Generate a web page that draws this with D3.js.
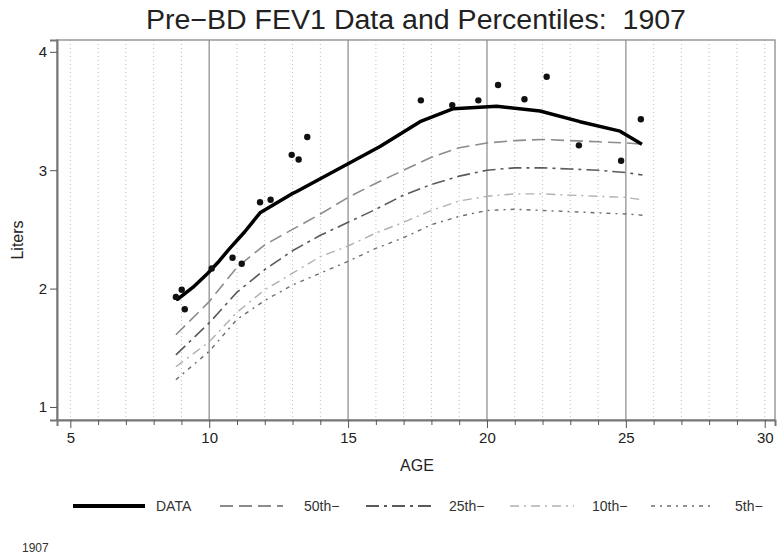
<!DOCTYPE html>
<html><head><meta charset="utf-8">
<script src="https://cdn.jsdelivr.net/npm/d3@7/dist/d3.min.js"></script>
<style>body{margin:0;background:#fff;} svg{display:block;font-family:"Liberation Sans",Arial,sans-serif;}</style>
</head><body><svg id="c" width="777" height="554"></svg>
<script>
const titleText = "Pre\u2212BD FEV1 Data and Percentiles:  1907";
const xTicks = [5, 10, 15, 20, 25, 30];
const yTicks = [1, 2, 3, 4];
const refLines = [10, 15, 20, 25];
// observed data points
const pointAge = [8.8, 9.01, 9.12, 10.09, 10.84, 11.17, 11.83, 12.21, 12.97, 13.22, 13.53, 17.62, 18.75, 19.69, 20.40, 21.35, 22.15, 23.31, 24.83, 25.54];
const pointFev = [1.93, 1.99, 1.825, 2.17, 2.26, 2.21, 2.73, 2.75, 3.13, 3.09, 3.28, 3.59, 3.55, 3.59, 3.72, 3.60, 3.79, 3.21, 3.08, 3.43];
// fitted DATA curve
const dataAge = [8.76, 8.86, 9.41, 9.95, 10.31, 10.74, 11.28, 11.83, 12.97, 13.15, 16.15, 17.59, 18.79, 20.35, 21.91, 23.35, 24.79, 25.58];
const dataFev = [1.95, 1.91, 2.01, 2.13, 2.22, 2.34, 2.48, 2.64, 2.80, 2.82, 3.20, 3.41, 3.52, 3.54, 3.50, 3.41, 3.33, 3.22];
// percentile curves
const pctAge = [8.8, 10, 11, 12, 13, 14, 15, 16, 17, 18, 19, 20, 21, 22, 23, 24, 25, 25.6];
const p50 = [1.61, 1.89, 2.18, 2.37, 2.50, 2.63, 2.77, 2.89, 3.00, 3.11, 3.19, 3.23, 3.25, 3.26, 3.25, 3.24, 3.23, 3.22];
const p25 = [1.44, 1.71, 1.97, 2.16, 2.32, 2.45, 2.56, 2.67, 2.79, 2.88, 2.95, 3.00, 3.02, 3.02, 3.01, 3.00, 2.98, 2.96];
const p10 = [1.34, 1.55, 1.80, 1.99, 2.13, 2.27, 2.36, 2.47, 2.56, 2.66, 2.74, 2.78, 2.80, 2.80, 2.79, 2.78, 2.77, 2.75];
const p05 = [1.23, 1.47, 1.74, 1.90, 2.03, 2.13, 2.23, 2.34, 2.43, 2.54, 2.61, 2.66, 2.67, 2.66, 2.65, 2.64, 2.63, 2.62];
const legendLabels = ["DATA", "50th\u2212", "25th\u2212", "10th\u2212", "5th\u2212"];
const footText = "1907";

const svg = d3.select("#c");
const L = 57, R = 775, T = 40, B = 420;
const x = d3.scaleLinear().domain([4.52, 30.37]).range([L, R]);
const y = d3.scaleLinear().domain([0.89, 4.10]).range([B, T]);

// grid
const g = svg.append("g");
g.selectAll(".minor").data(d3.range(5, 31).filter(v => !refLines.includes(v))).join("line")
  .attr("x1", d => x(d)).attr("x2", d => x(d)).attr("y1", T).attr("y2", B)
  .attr("stroke", "#bdbdbd").attr("stroke-width", 1).attr("stroke-dasharray", "1,3");
g.selectAll(".ref").data(refLines).join("line")
  .attr("x1", d => x(d)).attr("x2", d => x(d)).attr("y1", T).attr("y2", B)
  .attr("stroke", "#a0a0a0").attr("stroke-width", 1.5);

// frame
svg.append("rect").attr("x", L).attr("y", T).attr("width", R - L).attr("height", B - T)
  .attr("fill", "none").attr("stroke", "#8a8a8a").attr("stroke-width", 1.3);

// axes
const xAxis = svg.append("g").attr("transform", `translate(0,${B})`)
  .call(d3.axisBottom(x).tickValues(d3.range(5, 31)).tickSize(6).tickFormat(d => xTicks.includes(d) ? d : ""));
xAxis.select(".domain").attr("stroke", "#777").attr("stroke-width", 2);
xAxis.selectAll(".tick line").attr("stroke", "#555").attr("y2", d => xTicks.includes(d) ? 8 : 5);
xAxis.selectAll(".tick text").attr("font-size", 15).attr("fill", "#222").attr("dy", "0.95em");

const yAxis = svg.append("g").attr("transform", `translate(${L},0)`)
  .call(d3.axisLeft(y).tickValues(yTicks).tickSize(7).tickFormat(d3.format("d")));
yAxis.select(".domain").attr("stroke", "#777").attr("stroke-width", 2);
yAxis.selectAll(".tick line").attr("stroke", "#555");
yAxis.selectAll(".tick text").attr("font-size", 15).attr("fill", "#222");

// percentile lines
const line = d3.line().x(d => x(d[0])).y(d => y(d[1]));
const pctStyles = [
  {vals: p50, color: "#8c8c8c", dash: "13,6", w: 1.6},
  {vals: p25, color: "#5a5a5a", dash: "13,5,3,5", w: 1.6},
  {vals: p10, color: "#b0b0b0", dash: "9,5,2,5", w: 1.4},
  {vals: p05, color: "#6e6e6e", dash: "4,5,2,5", w: 1.4}
];
pctStyles.forEach(s => {
  svg.append("path").datum(pctAge.map((a, i) => [a, s.vals[i]]))
    .attr("d", line).attr("fill", "none").attr("stroke", s.color)
    .attr("stroke-width", s.w).attr("stroke-dasharray", s.dash);
});
// data curve
svg.append("path").datum(dataAge.map((a, i) => [a, dataFev[i]]))
  .attr("d", line).attr("fill", "none").attr("stroke", "#000").attr("stroke-width", 3.5)
  .attr("stroke-linejoin", "round");
// points
svg.append("g").selectAll("circle").data(pointAge.map((a, i) => [a, pointFev[i]])).join("circle")
  .attr("cx", d => x(d[0])).attr("cy", d => y(d[1])).attr("r", 3.2).attr("fill", "#111");

// title & labels
svg.append("text").attr("x", 416).attr("y", 29).attr("text-anchor", "middle")
  .attr("xml:space", "preserve").style("white-space", "pre")
  .attr("font-size", 27).attr("fill", "#222")
  .attr("textLength", 540).attr("lengthAdjust", "spacingAndGlyphs").text(titleText);
svg.append("text").attr("x", 417).attr("y", 471).attr("text-anchor", "middle")
  .attr("font-size", 16).attr("fill", "#222").text("AGE");
svg.append("text").attr("transform", "translate(23,240) rotate(-90)").attr("text-anchor", "middle")
  .attr("font-size", 16).attr("fill", "#222").text("Liters");

// legend
const legItems = [
  {x1: 73, x2: 145, tx: 156, color: "#000", dash: null, w: 4},
  {x1: 220, x2: 283, tx: 304, color: "#8c8c8c", dash: "13,6", w: 1.8},
  {x1: 366, x2: 431, tx: 449, color: "#5a5a5a", dash: "13,5,3,5", w: 1.8},
  {x1: 510, x2: 574, tx: 592, color: "#b0b0b0", dash: "9,5,2,5", w: 1.6},
  {x1: 651, x2: 715, tx: 735, color: "#6e6e6e", dash: "4,5,2,5", w: 1.6}
];
const leg = svg.append("g");
legItems.forEach((it, i) => {
  leg.append("line").attr("x1", it.x1).attr("x2", it.x2).attr("y1", 506).attr("y2", 506)
    .attr("stroke", it.color).attr("stroke-width", it.w).attr("stroke-dasharray", it.dash);
  leg.append("text").attr("x", it.tx).attr("y", 511).attr("font-size", 14).attr("fill", "#333").text(legendLabels[i]);
});
svg.append("text").attr("x", 22).attr("y", 552).attr("font-size", 12).attr("fill", "#333").text(footText);
</script></body></html>
